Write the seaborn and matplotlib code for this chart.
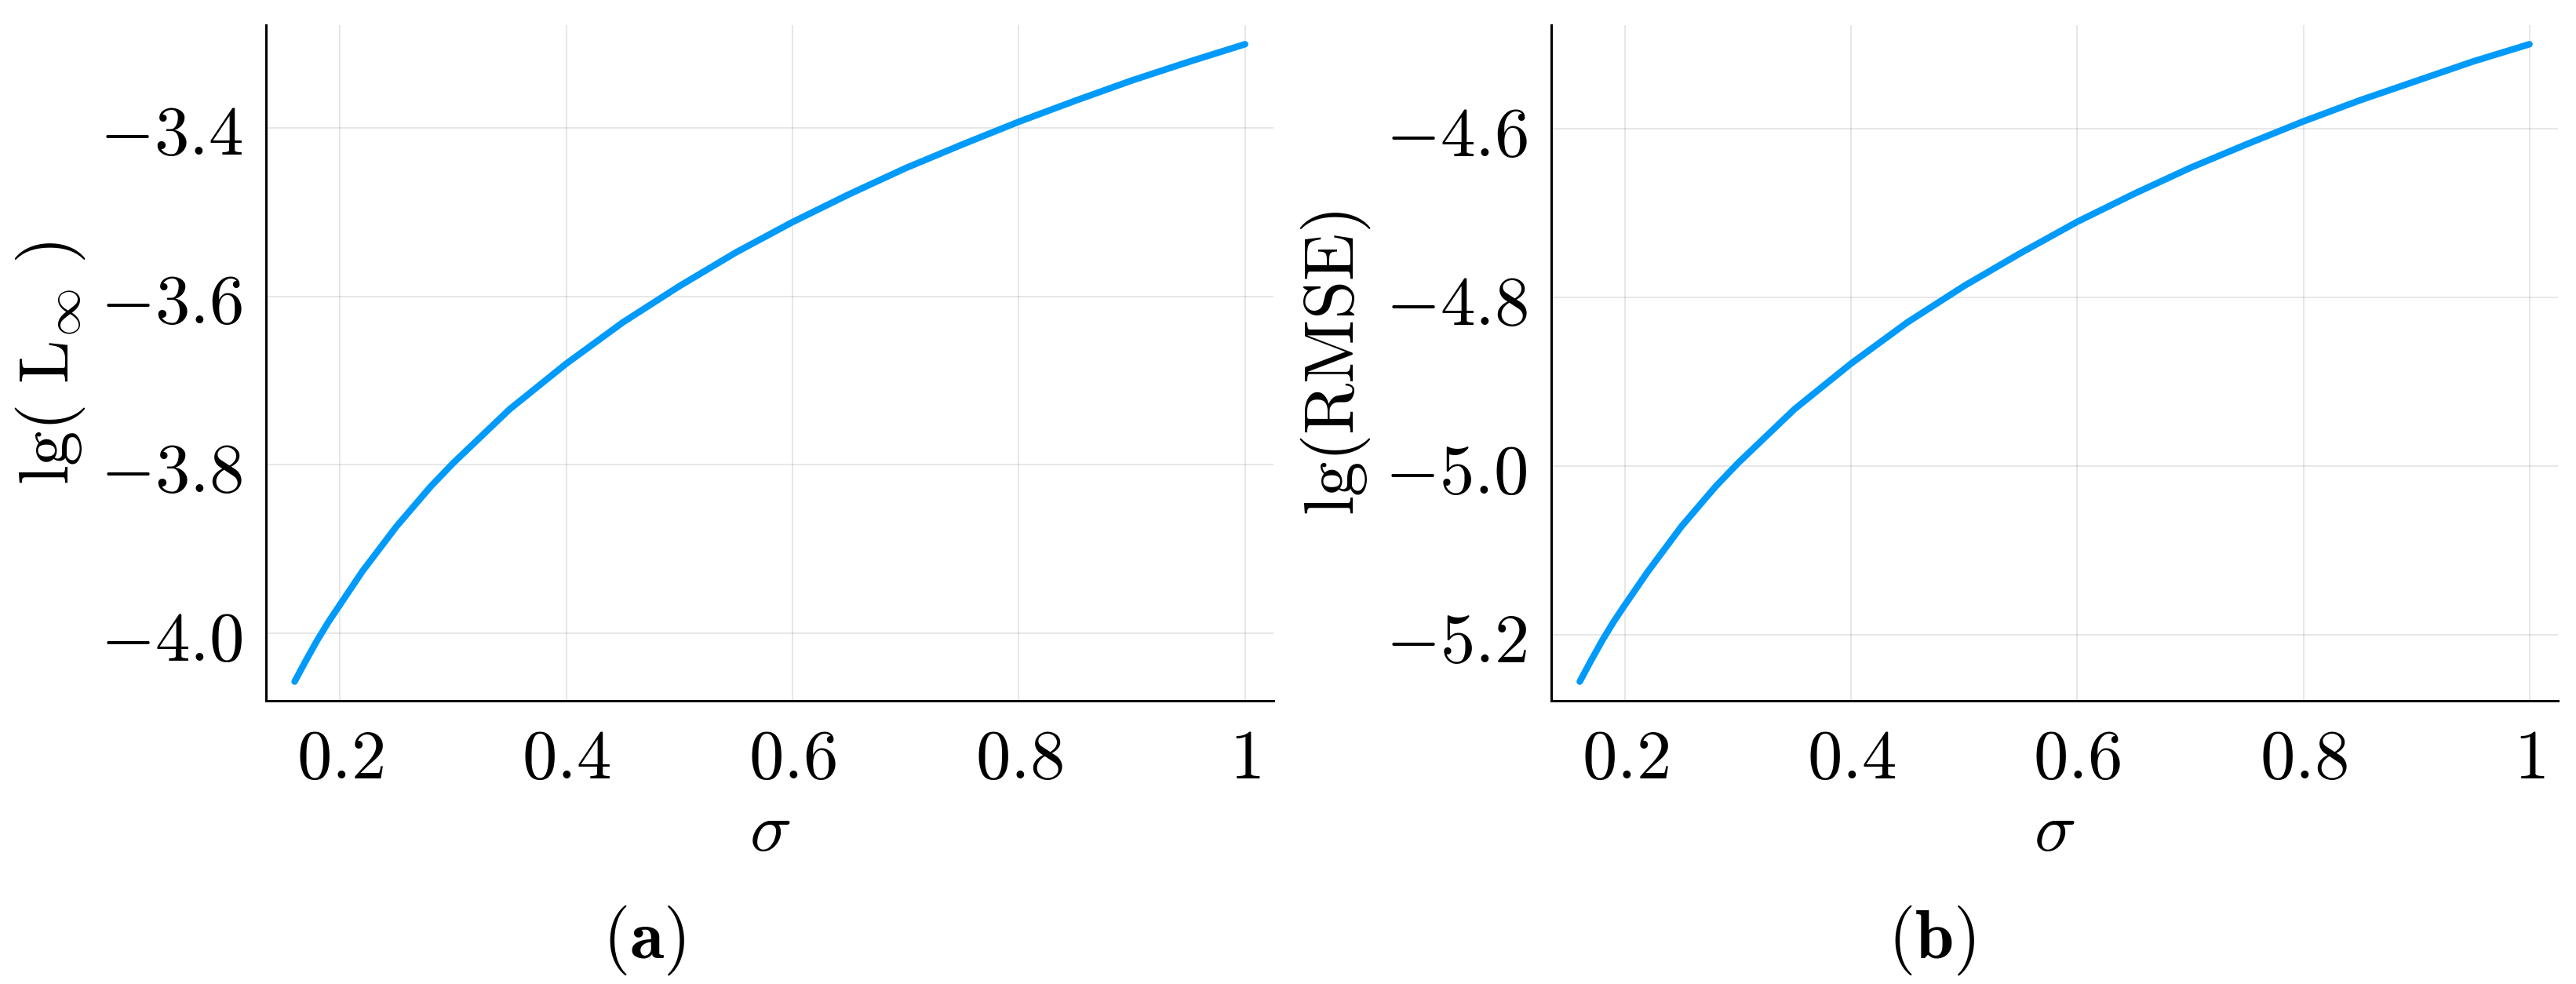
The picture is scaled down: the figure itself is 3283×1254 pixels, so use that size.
import pandas as pd
import seaborn as sns
import matplotlib.pyplot as plt

# values
sigma = [0.16, 0.17, 0.18, 0.19, 0.20, 0.22, 0.25, 0.28, 0.30, 0.35, 0.40, 0.45,
         0.50, 0.55, 0.60, 0.65, 0.70, 0.75, 0.80, 0.85, 0.90, 0.95, 1.00]
lg_linf = [-4.057, -4.032, -4.008, -3.986, -3.966, -3.926, -3.873, -3.826, -3.798,
           -3.734, -3.680, -3.631, -3.588, -3.548, -3.512, -3.479, -3.448, -3.420,
           -3.393, -3.368, -3.344, -3.322, -3.301]
lg_rmse = [-5.255, -5.230, -5.206, -5.184, -5.164, -5.125, -5.071, -5.024, -4.996,
           -4.932, -4.878, -4.829, -4.786, -4.747, -4.710, -4.677, -4.646, -4.618,
           -4.591, -4.566, -4.543, -4.520, -4.4995]

x_ticks = [0.2, 0.4, 0.6, 0.8, 1.0]
x_labels = ['0.2', '0.4', '0.6', '0.8', '1']
linf_ticks = [-4.0, -3.8, -3.6, -3.4]
rmse_ticks = [-5.2, -5.0, -4.8, -4.6]

line_color = '#009AFA'
fs = 64

sns.set_theme(style='white')
plt.rcParams['mathtext.fontset'] = 'cm'
plt.rcParams['font.family'] = ['DejaVu Serif']
plt.rcParams['text.color'] = 'black'
plt.rcParams['axes.labelcolor'] = 'black'
plt.rcParams['xtick.color'] = 'black'
plt.rcParams['ytick.color'] = 'black'


def panel(ax, y, yticks, ylabel):
    df = pd.DataFrame({'sigma': sigma, 'y': y})
    sns.lineplot(data=df, x='sigma', y='y', ax=ax, color=line_color,
                 linewidth=6.0, solid_capstyle='round', errorbar=None)
    pad_x = 0.03 * (max(sigma) - min(sigma))
    pad_y = 0.03 * (max(y) - min(y))
    ax.set_xlim(min(sigma) - pad_x, max(sigma) + pad_x)
    ax.set_ylim(min(y) - pad_y, max(y) + pad_y)

    ax.set_xticks(x_ticks)
    ax.set_xticklabels(['$' + s + '$' for s in x_labels])
    ax.set_yticks(yticks)
    ax.set_yticklabels(['$%.1f$' % t for t in yticks])
    ax.tick_params(direction='in', length=10, width=1.6, labelsize=fs, pad=22,
                   color='black', labelcolor='black')

    ax.grid(True, color='black', alpha=0.1, linewidth=1.3)
    for side in ['top', 'right']:
        ax.spines[side].set_visible(False)
    for side in ['left', 'bottom']:
        ax.spines[side].set_color('black')
        ax.spines[side].set_linewidth(2.2)

    ax.set_xlabel(r'$\sigma$', fontsize=fs, color='black')
    ax.set_ylabel(ylabel, fontsize=fs, color='black')
    ax.xaxis.set_label_coords(0.5, -0.142)
    ax.yaxis.set_label_coords(-0.178, 0.5)


fig = plt.figure(figsize=(32.83, 12.54), dpi=100)
ax1 = fig.add_axes([0.1033, 0.2879, 0.3911, 0.6866])
ax2 = fig.add_axes([0.6022, 0.2879, 0.3908, 0.6866])

panel(ax1, lg_linf, linf_ticks, r'$\mathrm{lg}(\ \mathrm{L}_{\infty}\ )$')
panel(ax2, lg_rmse, rmse_ticks, r'$\mathrm{lg}(\mathrm{RMSE})$')

fig.text(0.25, 0.0447, r'$(\mathbf{a})$', ha='center', va='center', fontsize=64)
fig.text(0.75, 0.0447, r'$(\mathbf{b})$', ha='center', va='center', fontsize=64)

fig.savefig('out.png', dpi=100, facecolor='white')
plt.close(fig)
